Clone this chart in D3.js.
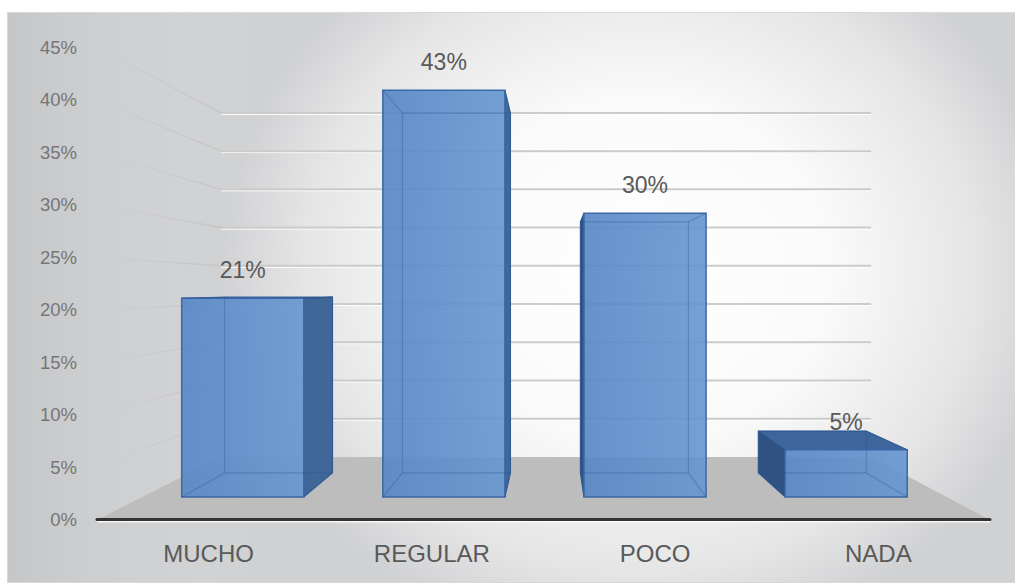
<!DOCTYPE html>
<html>
<head>
<meta charset="utf-8">
<script src="https://cdn.jsdelivr.net/npm/d3@7"></script>
<style>
  html, body { margin: 0; padding: 0; background: #ffffff; }
  svg { display: block; }
  text { font-family: "Liberation Sans", Arial, sans-serif; }
</style>
</head>
<body>
<svg id="chart" width="1015" height="585"></svg>
<script>
// ---- data ----
const categories = ["MUCHO", "REGULAR", "POCO", "NADA"];
const values = [21, 43, 30, 5];
const valueLabels = ["21%", "43%", "30%", "5%"];
const yTicks = [0, 5, 10, 15, 20, 25, 30, 35, 40, 45];

// ---- layout ----
const W = 1015, H = 585;
const svg = d3.select("#chart");
const defs = svg.append("defs");

// perspective (vanishing point) and depths
const VP = [553, 288];
const sFront = 0.901, sBack = 0.797;   // bar front / back depth factors
const sFloorFront = 1.0, sFloorBack = 0.728;
const proj = (X, Y, s) => [VP[0] + s * (X - VP[0]), VP[1] + s * (Y - VP[1])];

const x = d3.scaleBand().domain(categories).range([97, 990])
  .paddingInner(0.393).paddingOuter(0.1965);
const xBand = d3.scaleBand().domain(categories).range([97, 990]);
const y = d3.scaleLinear().domain([0, 45]).range([520, 47.5]);

// ---- background ----
const bg = defs.append("radialGradient").attr("id", "bg")
  .attr("gradientUnits", "userSpaceOnUse")
  .attr("cx", 640).attr("cy", 270).attr("r", 420)
  .attr("gradientTransform", "translate(640,270) scale(1,0.9) translate(-640,-270)");
[[0, "#ffffff"], [0.45, "#fafafa"], [0.8, "#e5e5e6"], [1, "#d0d1d3"]]
  .forEach(([o, c]) => bg.append("stop").attr("offset", o).attr("stop-color", c));
const bgL = defs.append("linearGradient").attr("id", "bgL")
  .attr("x1", 0).attr("x2", 1).attr("y1", 0).attr("y2", 0);
[[0, "#c4c5c7", 0.9], [0.25, "#d8d9da", 0.0], [1, "#d8d9da", 0]]
  .forEach(([o, c, a]) => bgL.append("stop").attr("offset", o).attr("stop-color", c).attr("stop-opacity", a));

svg.append("rect").attr("x", 7.5).attr("y", 12.5).attr("width", W - 7).attr("height", 570)
  .attr("fill", "url(#bg)").attr("stroke", "#d9d9d9").attr("stroke-width", 1);
svg.append("rect").attr("x", 8).attr("y", 13).attr("width", W - 8).attr("height", 569)
  .attr("fill", "url(#bgL)");

// ---- gridlines (back wall + left side wall) ----
const wallLeftX = proj(97, 0, sFloorBack)[0];
const sideGrad = defs.append("linearGradient").attr("id", "sideGrad")
  .attr("gradientUnits", "userSpaceOnUse")
  .attr("x1", 97).attr("x2", wallLeftX).attr("y1", 0).attr("y2", 0);
sideGrad.append("stop").attr("offset", 0).attr("stop-color", "#b8b8b8").attr("stop-opacity", 0.0);
sideGrad.append("stop").attr("offset", 1).attr("stop-color", "#b8b8b8").attr("stop-opacity", 0.5);

const grid = svg.append("g");
yTicks.filter(t => t > 0).forEach(t => {
  const back = proj(97, y(t), sFloorBack);
  const backR = proj(990, y(t), sFloorBack);
  const front = proj(97, y(t), sFloorFront);
  grid.append("line").attr("x1", back[0]).attr("y1", back[1] + 1.5)
    .attr("x2", backR[0]).attr("y2", backR[1] + 1.5)
    .attr("stroke", "#ffffff").attr("stroke-width", 1);
  grid.append("line").attr("x1", back[0]).attr("y1", back[1])
    .attr("x2", backR[0]).attr("y2", backR[1])
    .attr("stroke", "#cbcbcb").attr("stroke-width", 2);
  grid.append("line").attr("x1", front[0]).attr("y1", front[1])
    .attr("x2", back[0]).attr("y2", back[1])
    .attr("stroke", "url(#sideGrad)").attr("stroke-width", 1.5);
});

// ---- floor ----
const f0 = proj(97, y(0), sFloorFront), f1 = proj(990, y(0), sFloorFront);
const f2 = proj(990, y(0), sFloorBack), f3 = proj(97, y(0), sFloorBack);
svg.append("path").attr("d", d3.line()([f0, f1, f2, f3]) + "Z")
  .attr("fill", "#bdbdbd");

// ---- bars ----
const bars = svg.append("g");
const frontGrad = defs.append("linearGradient").attr("id", "frontGrad")
  .attr("x1", 0).attr("x2", 1).attr("y1", 0).attr("y2", 0);
frontGrad.append("stop").attr("offset", 0).attr("stop-color", "#5687c6");
frontGrad.append("stop").attr("offset", 1).attr("stop-color", "#6596d0");

categories.forEach((c, i) => {
  const X0 = x(c), X1 = x(c) + x.bandwidth();
  const Y0 = y(0), Y1 = y(values[i]);
  const P = (X, Y, s) => proj(X, Y, s);
  const fBL = P(X0, Y0, sFront), fBR = P(X1, Y0, sFront), fTR = P(X1, Y1, sFront), fTL = P(X0, Y1, sFront);
  const bBL = P(X0, Y0, sBack), bBR = P(X1, Y0, sBack), bTR = P(X1, Y1, sBack), bTL = P(X0, Y1, sBack);
  const g = bars.append("g");
  const poly = pts => d3.line()(pts) + "Z";
  const edge = "#2f5a94";
  // visible side faces
  if (X1 < VP[0]) {
    g.append("path").attr("d", poly([fBR, bBR, bTR, fTR])).attr("fill", "#3f6797")
      .attr("stroke", edge).attr("stroke-width", 1);
  }
  if (X0 > VP[0]) {
    g.append("path").attr("d", poly([fBL, bBL, bTL, fTL])).attr("fill", "#2f5283")
      .attr("stroke", edge).attr("stroke-width", 1);
  }
  if (Y1 > VP[1]) {
    g.append("path").attr("d", poly([fTL, fTR, bTR, bTL])).attr("fill", "#3e659c")
      .attr("stroke", edge).attr("stroke-width", 1);
  }
  // front face (slightly transparent)
  g.append("path").attr("d", poly([fBL, fBR, fTR, fTL]))
    .attr("fill", "url(#frontGrad)").attr("fill-opacity", 0.9)
    .attr("stroke", "#3b68a6").attr("stroke-width", 1.5);
  // hidden edges seen through
  const hid = g.append("g").attr("stroke", "#2c5590").attr("stroke-opacity", 0.35)
    .attr("stroke-width", 1.2).attr("fill", "none");
  hid.append("path").attr("d", poly([bBL, bBR, bTR, bTL]));
  [[fBL, bBL], [fBR, bBR], [fTR, bTR], [fTL, bTL]].forEach(([a, b]) =>
    hid.append("line").attr("x1", a[0]).attr("y1", a[1]).attr("x2", b[0]).attr("y2", b[1]));
  // value label
  svg.append("text").attr("x", (fTL[0] + fTR[0]) / 2).attr("y", fTL[1] - 20)
    .attr("text-anchor", "middle").attr("font-size", 23).attr("fill", "#595959")
    .text(valueLabels[i]);
});

// ---- axis line ----
svg.append("line").attr("x1", 97).attr("x2", 990).attr("y1", y(0) + 1.5).attr("y2", y(0) + 1.5)
  .attr("stroke", "#ffffff").attr("stroke-width", 2).attr("stroke-opacity", 0.8);
svg.append("line").attr("x1", 97).attr("x2", 990).attr("y1", y(0) - 0.5).attr("y2", y(0) - 0.5)
  .attr("stroke", "#333333").attr("stroke-width", 3).attr("stroke-linecap", "round");

// ---- y axis labels ----
const yAxis = svg.append("g").attr("transform", "translate(85,0)")
  .call(d3.axisLeft(y).tickValues(yTicks).tickFormat(d => d + "%").tickSize(0).tickPadding(8));
yAxis.select(".domain").remove();
yAxis.selectAll("text").attr("font-size", 18.5).attr("fill", "#767676")
  .attr("font-family", "'Liberation Sans', Arial, sans-serif");

// ---- x axis labels ----
const xAxis = svg.append("g").attr("transform", `translate(0,${y(0)})`)
  .call(d3.axisBottom(xBand).tickSize(0).tickPadding(25));
xAxis.select(".domain").remove();
xAxis.selectAll("text").attr("font-size", 24).attr("fill", "#595959")
  .attr("font-family", "'Liberation Sans', Arial, sans-serif");
</script>
</body>
</html>
